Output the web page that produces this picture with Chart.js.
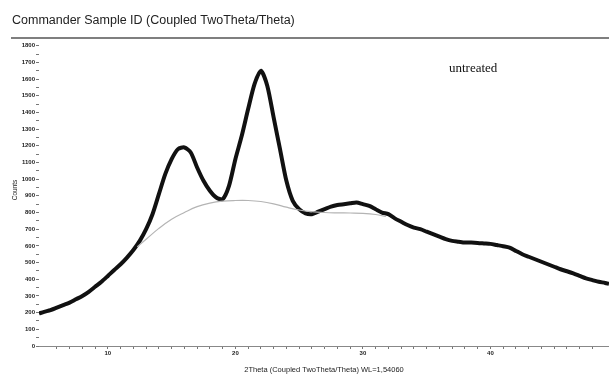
<!DOCTYPE html>
<html>
<head>
<meta charset="utf-8">
<script src="https://cdn.jsdelivr.net/npm/chart.js@4"></script>
<style>
  html, body { margin: 0; padding: 0; background: #fff; }
  canvas { display: block; }
</style>
</head>
<body>
<canvas id="myChart" width="609" height="378"></canvas>
<script>
// 2Theta positions
const twoTheta = [4.6, 5, 5.5, 6, 6.5, 7, 7.5, 8, 8.5, 9, 9.5, 10, 10.5, 11, 11.5, 12, 12.5, 13, 13.5, 14,
  14.5, 15, 15.5, 16, 16.5, 17, 17.5, 18, 18.5, 19, 19.5, 20, 20.5, 21, 21.5, 22, 22.5, 23, 23.5, 24,
  24.5, 25, 25.5, 26, 26.5, 27, 27.5, 28, 28.5, 29, 29.5, 30, 30.5, 31, 31.5, 32, 32.5, 33, 33.5, 34,
  34.5, 35, 35.5, 36, 36.5, 37, 37.5, 38, 38.5, 39, 39.5, 40, 40.5, 41, 41.5, 42, 42.5, 43, 43.5, 44,
  44.5, 45, 45.5, 46, 46.5, 47, 47.5, 48, 48.5, 49, 49.3];
// measured counts
const counts = [195, 205, 215, 230, 245, 260, 280, 300, 325, 355, 385, 420, 456, 490, 530, 575, 630, 700, 790, 910,
  1030, 1120, 1180, 1190, 1160, 1070, 990, 930, 890, 880, 960, 1120, 1260, 1420, 1570, 1650, 1560, 1370, 1180, 990,
  870, 820, 795, 790, 805, 820, 835, 845, 850, 855, 860, 850, 840, 820, 800, 790, 765, 745, 725, 710,
  700, 685, 670, 655, 640, 630, 625, 620, 620, 618, 615, 612, 605, 598, 590, 570, 550, 535, 520, 505,
  490, 475, 460, 448, 435, 420, 405, 395, 385, 378, 372];
// background (amorphous hump) line
const bgTheta = [12.3, 13, 14, 15, 16, 17, 18, 19, 20, 21, 22, 23, 24, 25, 26, 27, 28, 29, 30, 31, 31.8];
const bgCounts = [594, 640, 705, 760, 800, 835, 856, 868, 872, 872, 866, 852, 832, 815, 805, 800, 798, 797, 795, 788, 776];

const yTicks = [0, 1800];
const xRange = [4.6, 49.3];
const noteText = 'untreated';
const notePos = { x: 36.75, y: 1662 };

const headerPlugin = {
  id: 'header',
  afterDraw(chart) {
    const c = chart.ctx;
    c.save();
    c.fillStyle = '#222';
    c.font = '12.5px "Liberation Sans", Arial, sans-serif';
    c.textBaseline = 'middle';
    c.fillText('Commander Sample ID (Coupled TwoTheta/Theta)', 12, 21);
    c.strokeStyle = '#555';
    c.lineWidth = 1.5;
    c.beginPath();
    c.moveTo(11, 38);
    c.lineTo(609, 38);
    c.stroke();
    // annotation
    const xs = chart.scales.x, ys = chart.scales.y;
    c.fillStyle = '#111';
    c.font = '13px "Liberation Serif", "Times New Roman", serif';
    c.textAlign = 'left';
    c.fillText(noteText, xs.getPixelForValue(notePos.x), ys.getPixelForValue(notePos.y));
    c.restore();
  }
};

var ctx = document.getElementById('myChart').getContext('2d');
var myChart = new Chart(ctx, {
  type: 'line',
  data: {
    datasets: [{
      label: 'background',
      data: bgTheta.map((t, i) => ({ x: t, y: bgCounts[i] })),
      borderColor: '#b4b4b4',
      borderWidth: 1.2,
      pointRadius: 0,
      tension: 0.4
    }, {
      label: 'untreated',
      data: twoTheta.map((t, i) => ({ x: t, y: counts[i] })),
      borderColor: '#111',
      borderWidth: 4,
      pointRadius: 0,
      tension: 0.25
    }]
  },
  options: {
    responsive: false,
    animation: false,
    devicePixelRatio: 1,
    layout: { padding: { top: 34, right: 0, bottom: 4, left: 0 } },
    plugins: { legend: { display: false }, tooltip: { enabled: false } },
    scales: {
      x: {
        type: 'linear',
        min: xRange[0],
        max: xRange[1],
        afterBuildTicks: s => { s.ticks = s.ticks.filter(t => Number.isInteger(t.value)); },
        afterFit: s => { s.height = 28; },
        ticks: {
          stepSize: 1,
          autoSkip: false,
          maxRotation: 0,
          padding: 1,
          color: '#222',
          font: { size: 6, weight: 'bold', family: '"Liberation Sans", Arial' },
          callback: v => (v % 10 === 0 ? v : '')
        },
        grid: { drawOnChartArea: false, drawTicks: true, tickLength: 3, color: '#777' },
        border: { display: true, color: '#888', width: 1 },
        title: {
          display: true,
          text: '2Theta (Coupled TwoTheta/Theta) WL=1,54060',
          color: '#222',
          font: { size: 7.5, family: '"Liberation Sans", Arial' },
          padding: { top: 2, bottom: 0 }
        }
      },
      y: {
        min: 0,
        max: 1870,
        afterBuildTicks: s => { s.ticks = s.ticks.filter(t => t.value % 50 === 0); },
        afterFit: s => { s.width = 39; },
        ticks: {
          stepSize: 50,
          autoSkip: false,
          padding: 1,
          color: '#222',
          font: { size: 6, weight: 'bold', family: '"Liberation Sans", Arial' },
          callback: v => (v % 100 === 0 && v >= yTicks[0] && v <= yTicks[1] ? v : '')
        },
        grid: { drawOnChartArea: false, drawTicks: true, tickLength: 3, color: '#777' },
        border: { display: false },
        title: {
          display: true,
          text: 'Counts',
          color: '#222',
          font: { size: 6.5, family: '"Liberation Sans", Arial' },
          padding: { top: 11, bottom: 0 }
        }
      }
    }
  },
  plugins: [headerPlugin]
});
</script>
</body>
</html>
